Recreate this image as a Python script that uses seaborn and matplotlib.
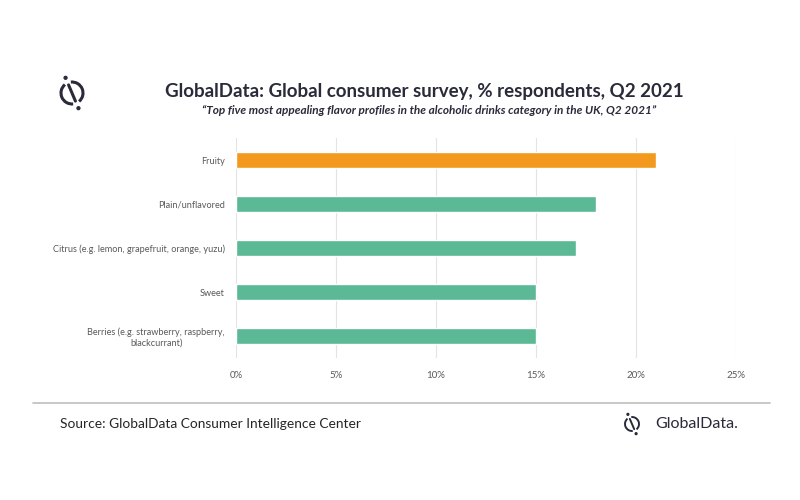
import numpy as np
import pandas as pd
import seaborn as sns
from matplotlib import pyplot as plt
from matplotlib.patches import Arc, Circle

# data
flavors = ["Fruity", "Plain/unflavored", "Citrus (e.g. lemon, grapefruit, orange, yuzu)",
           "Sweet", "Berries (e.g. strawberry, raspberry,\nblackcurrant)"]
share = [21, 18, 17, 15, 15]
ticks = [0, 5, 10, 15, 20, 25]
tick_labels = ["0%", "5%", "10%", "15%", "20%", "25%"]

df = pd.DataFrame({"flavor": flavors, "share": share})
bar_colors = ["#F39A1E"] + ["#5BB996"] * 4

sns.set_style("white")
plt.rcParams["font.family"] = ["Lato", "DejaVu Sans"]

fig = plt.figure(figsize=(8, 5), dpi=100)
ax = fig.add_axes([0.295, 0.284, 0.625, 0.44])

sns.barplot(data=df, x="share", y="flavor", hue="flavor", palette=bar_colors,
            saturation=1, legend=False, width=0.35, ax=ax, zorder=3)

ax.set_xlim(0, 25)
ax.set_xticks(ticks)
ax.set_xticklabels(tick_labels, fontsize=7, color="#595959")
ax.set_yticks(range(len(flavors)))
ax.set_yticklabels(flavors, ha="right", ma="center", fontsize=6.6, color="#595959")
ax.tick_params(axis="y", length=0, pad=8)
ax.tick_params(axis="x", length=0, pad=9)
ax.grid(axis="x", color="#e3e3e3", linewidth=0.8, zorder=0)
ax.set_xlabel("")
ax.set_ylabel("")
sns.despine(ax=ax, left=True, bottom=True)

# titles
fig.text(0.531, 0.816, "GlobalData: Global consumer survey, % respondents, Q2 2021",
         ha="center", va="center", fontsize=13.5, fontweight="bold", color="#2a2a3a")
fig.text(0.536, 0.778,
         "\u201cTop five most appealing flavor profiles in the alcoholic drinks category in the UK, Q2 2021\u201d",
         ha="center", va="center", fontsize=8.5, fontweight="bold", style="italic", color="#2a2a3a")

# footer
fig.add_artist(plt.Line2D([0.041, 0.962], [0.194, 0.194], color="#bfbfbf", linewidth=1.2))
fig.text(0.075, 0.152, "Source: GlobalData Consumer Intelligence Center",
         ha="left", va="center", fontsize=9.9, color="#262626")
fig.text(0.819, 0.152, "GlobalData.", ha="left", va="center", fontsize=11.5,
         color="#2a2a3a")

# logo icons drawn in pixel coordinates (y measured from top)
logo = fig.add_axes([0, 0, 1, 1], zorder=-1)
logo.set_xlim(0, 800)
logo.set_ylim(0, 500)
logo.axis("off")


def draw_logo(cx, py, r, lw):
    cy = 500 - py
    ang = np.deg2rad(113)
    ux, uy = np.cos(ang), np.sin(ang)
    logo.add_patch(Arc((cx, cy), 2 * r, 2 * r, theta1=-50, theta2=96, color="#2a2a3a", lw=lw))
    logo.add_patch(Arc((cx, cy), 2 * r, 2 * r, theta1=130, theta2=276, color="#2a2a3a", lw=lw))
    logo.plot([cx + 0.8 * r * ux, cx - 0.8 * r * ux], [cy + 0.8 * r * uy, cy - 0.8 * r * uy],
              color="#2a2a3a", lw=lw, solid_capstyle="round")
    logo.add_patch(Circle((cx + 1.5 * r * ux, cy + 1.5 * r * uy), 0.13 * r, color="#2a2a3a"))
    logo.add_patch(Circle((cx - 1.5 * r * ux, cy - 1.5 * r * uy), 0.13 * r, color="#2a2a3a"))


draw_logo(72, 93, 11, 2.2)
draw_logo(632, 424, 7, 1.4)

fig.savefig("out.png", dpi=100)
